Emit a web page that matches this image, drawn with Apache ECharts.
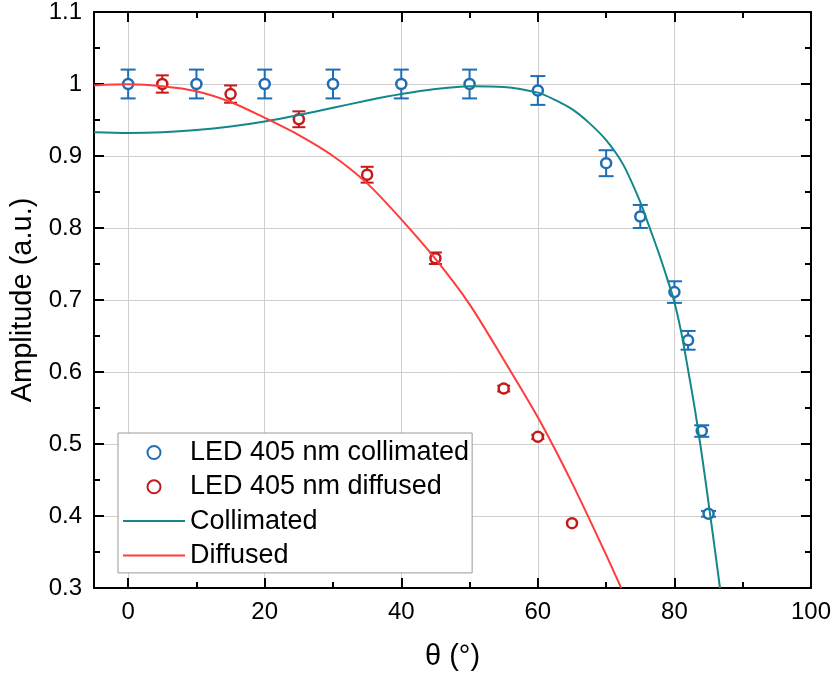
<!DOCTYPE html>
<html>
<head>
<meta charset="utf-8">
<script src="https://cdn.jsdelivr.net/npm/echarts@6/dist/echarts.min.js"></script>
<style>
html,body{margin:0;padding:0;background:#fff;}
#chart{width:836px;height:676px;}
</style>
</head>
<body>
<div id="chart"></div>
<script>
// ---- data ----
const collX   = [0, 10, 20, 30, 40, 50, 60, 70, 75, 80, 82, 84, 85];
const collY   = [1.0, 1.0, 1.0, 1.0, 1.0, 1.0, 0.991, 0.89, 0.816, 0.711, 0.644, 0.518, 0.403];
const collErr = [0.02, 0.02, 0.02, 0.02, 0.02, 0.02, 0.02, 0.018, 0.016, 0.015, 0.013, 0.008, 0.004];

const diffX   = [5, 15, 25, 35, 45, 55, 60, 65];
const diffY   = [1.0, 0.986, 0.951, 0.874, 0.758, 0.577, 0.51, 0.39];
const diffErr = [0.012, 0.012, 0.011, 0.011, 0.008, 0.004, 0.003, 0];

const fitCollX = [-5, 0, 5, 10, 15, 20, 25, 30, 35, 40, 45, 50, 55, 60, 62.5, 65, 67.5, 70, 72.5, 75, 76, 77, 78, 79, 80, 81, 82, 83, 84, 85, 86, 86.67];
const fitCollY = [0.933, 0.932, 0.933, 0.936, 0.941, 0.948, 0.957, 0.967, 0.977, 0.986, 0.993, 0.997, 0.996, 0.988, 0.978, 0.965, 0.946, 0.922, 0.888, 0.836, 0.81, 0.784, 0.757, 0.728, 0.697, 0.655, 0.603, 0.548, 0.486, 0.418, 0.348, 0.3];

const fitDiffX = [-5, 0, 5, 10, 15, 20, 25, 30, 35, 40, 45, 50, 55, 60, 65, 70, 72.2];
const fitDiffY = [0.998, 0.9995, 0.997, 0.99, 0.975, 0.953, 0.929, 0.90, 0.862, 0.812, 0.757, 0.694, 0.617, 0.537, 0.446, 0.346, 0.3];

const xTicksMajor = 20, xTicksMinor = 10;
const yTick = 0.1;
const names = ['LED 405 nm collimated', 'LED 405 nm diffused', 'Collimated', 'Diffused'];
const xName = 'θ (°)';
const yName = 'Amplitude (a.u.)';

// ---- styles ----
const FONT = 'Liberation Sans, Arial, sans-serif';
const BLUE = '#1f6db5', RED = '#c41a1a', TEAL = '#13878a', LRED = '#ff3b3b';

const zip = (xs, ys) => xs.map((x, i) => [x, ys[i]]);
const zip3 = (xs, ys, es) => xs.map((x, i) => [x, ys[i], es[i]]);

function errRender(color, hw) {
  return function (params, api) {
    const x = api.value(0), y = api.value(1), e = api.value(2);
    if (!(e > 0)) return null;
    const t = api.coord([x, y + e]);
    const b = api.coord([x, y - e]);
    const st = { stroke: color, lineWidth: 2 };
    return {
      type: 'group',
      children: [
        { type: 'line', shape: { x1: t[0], y1: t[1], x2: b[0], y2: b[1] }, style: st },
        { type: 'line', shape: { x1: t[0] - hw, y1: t[1], x2: t[0] + hw, y2: t[1] }, style: st },
        { type: 'line', shape: { x1: b[0] - hw, y1: b[1], x2: b[0] + hw, y2: b[1] }, style: st }
      ]
    };
  };
}

const black = '#000';
const baseX = { type: 'value', min: -5, max: 100, gridIndex: 0 };
const noSym = { color: 'rgba(0,0,0,0)', borderColor: 'rgba(0,0,0,0)', borderWidth: 0 };
const majTick = { show: true, inside: true, length: 10, lineStyle: { color: black, width: 2 } };
const minTick = { show: true, inside: true, length: 6, lineStyle: { color: black, width: 2 } };

const chart = echarts.init(document.getElementById('chart'), null, { renderer: 'canvas' });
chart.setOption({
  animation: false,
  backgroundColor: '#fff',
  textStyle: { fontFamily: FONT },
  grid: { left: 94, top: 12, width: 717, height: 577, containLabel: false },
  legend: {
    orient: 'vertical', left: 118, top: 433, z: 10,
    padding: [6, 3, 4, 4], itemGap: 7.3, itemWidth: 62, itemHeight: 13,
    backgroundColor: '#fff', borderColor: '#9a9a9a', borderWidth: 1, borderRadius: 0,
    textStyle: { fontSize: 27, color: '#000', fontFamily: FONT, lineHeight: 27 },
    data: [
      { name: names[0] },
      { name: names[1] },
      { name: names[2], itemStyle: noSym },
      { name: names[3], itemStyle: noSym }
    ]
  },
  xAxis: [
    Object.assign({}, baseX, {
      position: 'bottom', splitNumber: 5, minInterval: xTicksMajor, maxInterval: xTicksMajor,
      axisLine: { show: true, onZero: false, lineStyle: { color: black, width: 2 } },
      axisTick: majTick,
      axisLabel: { show: true, fontSize: 24, color: black, margin: 12, showMinLabel: false, fontFamily: FONT },
      splitLine: { show: true, lineStyle: { color: '#cfcfcf', width: 1 } },
      name: xName, nameLocation: 'middle', nameGap: 54,
      nameTextStyle: { fontSize: 29, color: black, fontFamily: FONT }
    }),
    Object.assign({}, baseX, {
      position: 'top', splitNumber: 5, minInterval: xTicksMajor, maxInterval: xTicksMajor,
      axisLine: { show: true, onZero: false, lineStyle: { color: black, width: 2 } },
      axisTick: majTick,
      axisLabel: { show: false }, splitLine: { show: false }
    }),
    Object.assign({}, baseX, {
      position: 'bottom', splitNumber: 10, minInterval: xTicksMinor, maxInterval: xTicksMinor,
      axisLine: { show: false, onZero: false },
      axisTick: minTick,
      axisLabel: { show: false }, splitLine: { show: false }
    }),
    Object.assign({}, baseX, {
      position: 'top', splitNumber: 10, minInterval: xTicksMinor, maxInterval: xTicksMinor,
      axisLine: { show: false, onZero: false },
      axisTick: minTick,
      axisLabel: { show: false }, splitLine: { show: false }
    })
  ],
  yAxis: [
    {
      type: 'value', position: 'left', min: 0.3, max: 1.1, interval: yTick,
      axisLine: { show: true, onZero: false, lineStyle: { color: black, width: 2 } },
      axisTick: majTick,
      minorTick: { show: true, splitNumber: 2, length: 6, lineStyle: { color: black, width: 2 } },
      axisLabel: { show: true, fontSize: 24, color: black, margin: 12, fontFamily: FONT },
      splitLine: { show: true, lineStyle: { color: '#cfcfcf', width: 1 } },
      name: yName, nameLocation: 'middle', nameGap: 50,
      nameTextStyle: { fontSize: 29, color: black, fontFamily: FONT }
    },
    {
      type: 'value', position: 'right', min: 0.3, max: 1.1, interval: yTick,
      axisLine: { show: true, onZero: false, lineStyle: { color: black, width: 2 } },
      axisTick: majTick,
      minorTick: { show: true, splitNumber: 2, length: 6, lineStyle: { color: black, width: 2 } },
      axisLabel: { show: false }, splitLine: { show: false }
    }
  ],
  series: [
    {
      name: 'err-coll', type: 'custom', z: 2, silent: true,
      renderItem: errRender(BLUE, 7.5),
      encode: { x: 0, y: 1 },
      data: zip3(collX, collY, collErr)
    },
    {
      name: 'err-diff', type: 'custom', z: 2, silent: true,
      renderItem: errRender(RED, 6.5),
      encode: { x: 0, y: 1 },
      data: zip3(diffX, diffY, diffErr)
    },
    {
      name: names[0], type: 'scatter', z: 3, symbol: 'circle', symbolSize: 10,
      itemStyle: { color: '#fff', borderColor: BLUE, borderWidth: 2.5, opacity: 1 },
      data: zip(collX, collY)
    },
    {
      name: names[1], type: 'scatter', z: 3, symbol: 'circle', symbolSize: 10,
      itemStyle: { color: '#fff', borderColor: RED, borderWidth: 2.5, opacity: 1 },
      data: zip(diffX, diffY)
    },
    {
      name: names[2], type: 'line', z: 4, symbol: 'none', showSymbol: false,
      smooth: 0.3,
      lineStyle: { color: TEAL, width: 2 }, itemStyle: { color: TEAL },
      data: zip(fitCollX, fitCollY)
    },
    {
      name: names[3], type: 'line', z: 4, symbol: 'none', showSymbol: false,
      smooth: 0.3,
      lineStyle: { color: LRED, width: 2 }, itemStyle: { color: LRED },
      data: zip(fitDiffX, fitDiffY)
    }
  ]
});
</script>
</body>
</html>
